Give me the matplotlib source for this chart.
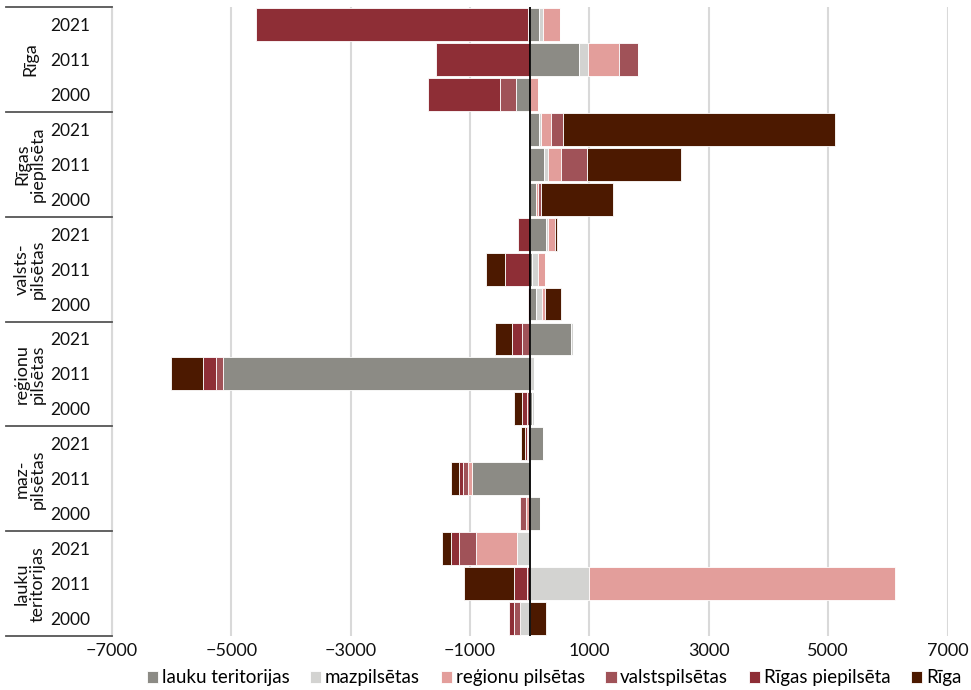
import matplotlib
matplotlib.use("Agg")
import matplotlib.pyplot as plt
import matplotlib.transforms as mtransforms
import numpy as np

plt.rcParams['font.family'] = ['Lato', 'DejaVu Sans']

groups = ["Rīga", "Rīgas\npiepilsēta", "valsts-\npilsētas", "reģionu\npilsētas", "maz-\npilsētas", "lauku\nteritorijas"]
years = ["2021", "2011", "2000"]
series = ["lauku teritorijas", "mazpilsētas", "reģionu pilsētas", "valstspilsētas", "Rīgas piepilsēta", "Rīga"]
colors = ["#8c8b85", "#d3d3d1", "#e39e9b", "#a05258", "#8e2e36", "#4c1900"]

# rows: group x year (2021, 2011, 2000); columns follow `series`
riga = [[150, 73, 285, -35, -4555, 0],
        [828, 145, 526, 319, -1572, 0],
        [-235, 0, 140, -258, -1210, 0]]
piepilseta = [[162, 34, 168, 201, 0, 4548],
              [241, 62, 224, 425, 0, 1577],
              [101, 11, 34, 45, 0, 1208]]
valstspilsetas = [[268, 39, 123, 0, -190, 34],
                  [39, 95, 117, 0, -420, -319],
                  [112, 101, 45, 0, -34, 263]]
regionu = [[688, 39, 0, -134, -162, -280],
           [-5146, 67, 0, -117, -218, -531],
           [30, 40, 0, -39, -90, -129]]
mazpilsetas = [[218, 0, -25, -25, -30, -65],
               [-973, 0, -67, -78, -73, -129],
               [168, 0, -56, -112, 0, 0]]
lauku = [[0, -207, -699, -274, -145, -145],
         [0, 990, 5130, -39, -229, -839],
         [0, -157, 0, -101, -90, 268]]

data = np.array(riga + piepilseta + valstspilsetas + regionu + mazpilsetas + lauku, dtype=float)
n_rows = data.shape[0]
ypos = np.arange(n_rows)

fig = plt.figure(figsize=(9.71, 6.9), dpi=100)
ax = fig.add_axes([112/971, 1-636/690, (947.5-112)/971, (636-7)/690])

pos_left = np.zeros(n_rows)
neg_left = np.zeros(n_rows)
for j, (name, col) in enumerate(zip(series, colors)):
    vals = data[:, j]
    left = np.where(vals >= 0, pos_left, neg_left)
    ax.barh(ypos, vals, left=left, height=0.94, color=col, edgecolor='white',
            linewidth=0.6, label=name, zorder=3)
    pos_left += np.where(vals > 0, vals, 0)
    neg_left += np.where(vals < 0, vals, 0)

ax.set_xlim(-7000, 7000)
ax.set_ylim(n_rows - 0.5, -0.5)
ax.set_xticks(np.arange(-7000, 7001, 2000))
ax.set_xticklabels([f"{v}".replace("-", "\u2212") for v in range(-7000, 7001, 2000)])
ax.grid(axis='x', color='#d9d9d9', linewidth=1.5, zorder=0)
ax.axvline(0, color='black', linewidth=1.3, zorder=5)
for s in ['top', 'right', 'bottom']:
    ax.spines[s].set_visible(False)
ax.spines['left'].set_color('#d9d9d9')
ax.spines['left'].set_linewidth(1.5)
ax.tick_params(axis='x', length=0, labelsize=13, pad=5, colors='#111111')
ax.set_yticks(ypos)
ax.set_yticklabels(years * len(groups))
ax.tick_params(axis='y', length=0, labelsize=12.5, pad=16, colors='#111111')

trans = mtransforms.blended_transform_factory(ax.transAxes, ax.transData)
x0 = (6 - 112) / 835.5
for b in range(len(groups) + 1):
    yb = b * 3 - 0.5
    ax.plot([x0, 0], [yb, yb], transform=trans, color='#555555', linewidth=1.3,
            clip_on=False, zorder=6)
for g, name in enumerate(groups):
    ax.text((30 - 112) / 835.5, g * 3 + 1, name, transform=trans, rotation=90,
            ha='center', va='center', fontsize=13, color='#111111', linespacing=1.0)

handles, labels = ax.get_legend_handles_labels()
fig.legend(handles, labels, loc='center', bbox_to_anchor=(554/971, 1-678/690), ncol=6,
           frameon=False, fontsize=13.5, handlelength=0.6, handleheight=0.6,
           handletextpad=0.2, columnspacing=1.1, borderaxespad=0)

fig.savefig("out.png", dpi=100)
